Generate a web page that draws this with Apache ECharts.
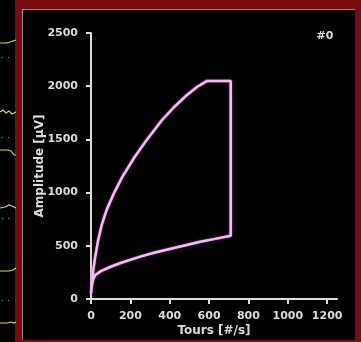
<!DOCTYPE html>
<html>
<head>
<meta charset="utf-8">
<script src="https://cdn.jsdelivr.net/npm/echarts@6/dist/echarts.min.js"></script>
<style>
html,body{margin:0;padding:0;background:#000;}
#chart{width:361px;height:342px;}
</style>
</head>
<body>
<div id="chart"></div>
<script>
// Loop trace: lower branch (rising speed), vertical step, top plateau, upper branch (returning)
const lowerX = [0, 5, 12, 22, 50, 100, 150, 250, 320, 400, 480, 555, 630, 710];
const lowerY = [50, 130, 190, 225, 262, 303, 338, 398, 435, 470, 505, 538, 565, 595];
const topX = [710, 590];
const topY = [2050, 2050];
const upperX = [540, 480, 420, 360, 285, 220, 160, 118, 80, 55, 35, 20, 10, 3, 0];
const upperY = [1995, 1905, 1800, 1680, 1500, 1330, 1150, 1000, 840, 700, 540, 380, 250, 130, 50];
const xTicks = [0, 200, 400, 600, 800, 1000, 1200];
const yTicks = [0, 500, 1000, 1500, 2000, 2500];
const xName = 'Tours [#/s]';
const yName = 'Amplitude [µV]';
const channelLabel = '#0';

const pts = [];
lowerX.forEach((x, i) => pts.push([x, lowerY[i]]));
topX.forEach((x, i) => pts.push([x, topY[i]]));
upperX.forEach((x, i) => pts.push([x, upperY[i]]));

const chart = echarts.init(document.getElementById('chart'), null, {renderer: 'canvas'});
const font = '"DejaVu Sans", sans-serif';
const axisCol = '#dcdcdc';
const red = '#7a0d0f';
const yellow = '#d9d36a';
const plain = v => String(v);

const graphic = [
  {type: 'rect', z: -10, shape: {x: 15, y: 0, width: 346, height: 9}, style: {fill: red}},
  {type: 'rect', z: -10, shape: {x: 15, y: 0, width: 7, height: 342}, style: {fill: red}},
  {type: 'rect', z: -10, shape: {x: 355, y: 0, width: 6, height: 342}, style: {fill: red}},
  {type: 'rect', z: -10, shape: {x: 15, y: 340, width: 346, height: 2}, style: {fill: red}},
  {type: 'line', z: -9, shape: {x1: 22.5, y1: 9, x2: 22.5, y2: 340}, style: {stroke: '#8a8a8a', lineWidth: 1}},
  {type: 'line', z: -9, shape: {x1: 22, y1: 9.5, x2: 355, y2: 9.5}, style: {stroke: '#8a8a8a', lineWidth: 1}},
  {type: 'polyline', shape: {points: [[0,43],[6,43],[10,42],[13,41],[16,40]]}, style: {stroke: yellow, lineWidth: 1.2, fill: null}},
  {type: 'polyline', shape: {points: [[0,112],[3,110],[6,113],[9,111],[12,114],[16,112]]}, style: {stroke: yellow, lineWidth: 1.2, fill: null}},
  {type: 'polyline', shape: {points: [[0,150],[8,150],[11,151],[14,155],[16,155]]}, style: {stroke: yellow, lineWidth: 1.2, fill: null}},
  {type: 'polyline', shape: {points: [[0,208],[5,207],[9,205],[12,206],[16,208]]}, style: {stroke: yellow, lineWidth: 1.2, fill: null}},
  {type: 'polyline', shape: {points: [[0,271],[9,271],[13,270],[16,268]]}, style: {stroke: yellow, lineWidth: 1.2, fill: null}},
  {type: 'polyline', shape: {points: [[0,323],[7,323],[11,322],[14,323],[16,322]]}, style: {stroke: yellow, lineWidth: 1.2, fill: null}},
  {type: 'rect', shape: {x: 2, y: 57, width: 1, height: 1}, style: {fill: '#888'}},
  {type: 'rect', shape: {x: 8, y: 57, width: 1, height: 1}, style: {fill: '#888'}},
  {type: 'rect', shape: {x: 2, y: 137, width: 1, height: 1}, style: {fill: '#888'}},
  {type: 'rect', shape: {x: 8, y: 137, width: 1, height: 1}, style: {fill: '#888'}},
  {type: 'rect', shape: {x: 2, y: 218, width: 1, height: 1}, style: {fill: '#888'}},
  {type: 'rect', shape: {x: 8, y: 218, width: 1, height: 1}, style: {fill: '#888'}},
  {type: 'rect', shape: {x: 2, y: 300, width: 1, height: 1}, style: {fill: '#888'}},
  {type: 'rect', shape: {x: 8, y: 300, width: 1, height: 1}, style: {fill: '#888'}},
  {type: 'text', x: 325, y: 36, style: {text: channelLabel, fill: axisCol, font: 'bold 11px ' + font, align: 'center', verticalAlign: 'middle'}}
];

chart.setOption({
  backgroundColor: '#000',
  animation: false,
  graphic: graphic,
  grid: {left: 91, right: 24, top: 33, bottom: 43},
  xAxis: {
    type: 'value', min: 0, max: 1250,
    name: xName, nameLocation: 'middle', nameGap: 26, nameMoveOverlap: false,
    nameTextStyle: {color: axisCol, fontFamily: font, fontWeight: 'bold', fontSize: 12},
    splitLine: {show: false},
    axisLine: {lineStyle: {color: axisCol, width: 2}},
    axisTick: {length: 5, lineStyle: {color: axisCol, width: 2}, customValues: xTicks},
    axisLabel: {color: axisCol, fontFamily: font, fontWeight: 'bold', fontSize: 11, margin: 12, customValues: xTicks, formatter: plain}
  },
  yAxis: {
    type: 'value', min: 0, max: 2500, interval: 500,
    name: yName, nameLocation: 'middle', nameGap: 45, nameRotate: 90, nameMoveOverlap: false,
    nameTextStyle: {color: axisCol, fontFamily: font, fontWeight: 'bold', fontSize: 12},
    splitLine: {show: false},
    axisLine: {show: true, lineStyle: {color: axisCol, width: 2}},
    axisTick: {show: true, length: 5, lineStyle: {color: axisCol, width: 2}, customValues: yTicks},
    axisLabel: {color: axisCol, fontFamily: font, fontWeight: 'bold', fontSize: 11, margin: 13, customValues: yTicks, formatter: plain}
  },
  series: [{
    type: 'line',
    data: pts,
    showSymbol: false,
    smooth: false,
    lineStyle: {color: '#f3bdf0', width: 2.5, shadowColor: '#c048c0', shadowBlur: 2}
  }]
});
</script>
</body>
</html>
